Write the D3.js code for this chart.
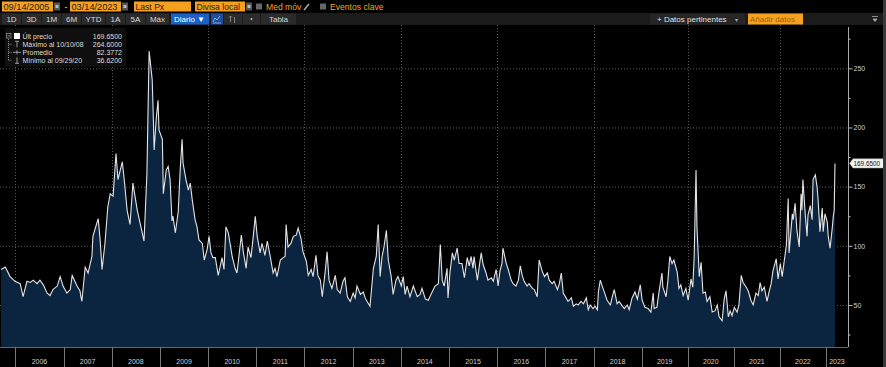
<!DOCTYPE html>
<html>
<head>
  <meta charset="utf-8" />
  <script src="https://d3js.org/d3.v7.min.js"></script>
  <style>
    body { margin: 0; padding: 0; background-color: #000; }
    svg { display: block; font-family: "Liberation Sans", Arial, sans-serif; }
  </style>
</head>
<body>
  <svg id="chart" width="886" height="367"></svg>
  <script>
    // sample dates as decimal years
    const sampleYears = [
      2005.703, 2005.79, 2005.89, 2005.99, 2006.10, 2006.16, 2006.24, 2006.31, 2006.37, 2006.45,
      2006.51, 2006.58, 2006.66, 2006.72, 2006.78, 2006.87, 2006.93, 2006.99, 2007.07, 2007.14,
      2007.18, 2007.28, 2007.34, 2007.38, 2007.45, 2007.51, 2007.59, 2007.61, 2007.72, 2007.76,
      2007.80, 2007.86, 2007.92, 2007.97, 2008.03, 2008.09, 2008.13, 2008.22, 2008.26, 2008.32,
      2008.38, 2008.44, 2008.53, 2008.59, 2008.67, 2008.73, 2008.75, 2008.776, 2008.84, 2008.86,
      2008.88, 2008.92, 2008.96, 2008.98, 2009.05, 2009.07, 2009.13, 2009.17, 2009.21, 2009.25,
      2009.27, 2009.32, 2009.38, 2009.42, 2009.46, 2009.48, 2009.54, 2009.59, 2009.63, 2009.67,
      2009.73, 2009.77, 2009.81, 2009.88, 2009.92, 2009.98, 2010.02, 2010.06, 2010.10, 2010.15,
      2010.21, 2010.29, 2010.33, 2010.37, 2010.42, 2010.50, 2010.56, 2010.60, 2010.69, 2010.73,
      2010.79, 2010.83, 2010.89, 2010.93, 2010.98, 2011.02, 2011.08, 2011.12, 2011.18, 2011.23,
      2011.29, 2011.35, 2011.39, 2011.43, 2011.50, 2011.56, 2011.60, 2011.62, 2011.66, 2011.72,
      2011.77, 2011.83, 2011.87, 2011.93, 2011.97, 2012.04, 2012.08, 2012.14, 2012.18, 2012.24,
      2012.28, 2012.33, 2012.37, 2012.43, 2012.47, 2012.51, 2012.57, 2012.64, 2012.68, 2012.74,
      2012.80, 2012.84, 2012.89, 2012.95, 2013.01, 2013.05, 2013.09, 2013.16, 2013.22, 2013.26,
      2013.30, 2013.36, 2013.43, 2013.49, 2013.53, 2013.57, 2013.61, 2013.65, 2013.70, 2013.74,
      2013.80, 2013.84, 2013.90, 2013.94, 2014.01, 2014.05, 2014.09, 2014.13, 2014.19, 2014.26,
      2014.34, 2014.40, 2014.44, 2014.51, 2014.57, 2014.65, 2014.71, 2014.78, 2014.82, 2014.86,
      2014.90, 2014.96, 2014.98, 2015.02, 2015.07, 2015.11, 2015.17, 2015.21, 2015.27, 2015.32,
      2015.38, 2015.42, 2015.46, 2015.50, 2015.52, 2015.59, 2015.63, 2015.67, 2015.71, 2015.77,
      2015.81, 2015.88, 2015.92, 2015.98, 2016.02, 2016.06, 2016.10, 2016.12, 2016.19, 2016.23,
      2016.29, 2016.33, 2016.39, 2016.44, 2016.48, 2016.52, 2016.56, 2016.62, 2016.66, 2016.73,
      2016.77, 2016.83, 2016.87, 2016.93, 2016.98, 2017.04, 2017.08, 2017.14, 2017.18, 2017.25,
      2017.29, 2017.33, 2017.37, 2017.43, 2017.47, 2017.54, 2017.58, 2017.64, 2017.68, 2017.74,
      2017.79, 2017.85, 2017.89, 2017.93, 2017.99, 2018.03, 2018.08, 2018.10, 2018.14, 2018.18,
      2018.24, 2018.28, 2018.35, 2018.39, 2018.43, 2018.49, 2018.53, 2018.60, 2018.64, 2018.70,
      2018.74, 2018.80, 2018.86, 2018.91, 2018.97, 2019.01, 2019.07, 2019.14, 2019.20, 2019.25,
      2019.27, 2019.33, 2019.38, 2019.44, 2019.46, 2019.53, 2019.57, 2019.61, 2019.66, 2019.70,
      2019.77, 2019.81, 2019.85, 2019.90, 2019.96, 2020.01, 2020.07, 2020.11, 2020.14, 2020.18,
      2020.20, 2020.25, 2020.29, 2020.33, 2020.38, 2020.42, 2020.48, 2020.53, 2020.59, 2020.64,
      2020.68, 2020.745, 2020.79, 2020.83, 2020.88, 2020.92, 2020.96, 2021.01, 2021.07, 2021.11,
      2021.16, 2021.20, 2021.27, 2021.31, 2021.37, 2021.42, 2021.48, 2021.53, 2021.57, 2021.61,
      2021.66, 2021.72, 2021.77, 2021.81, 2021.85, 2021.92, 2021.96, 2022.01, 2022.05, 2022.09,
      2022.14, 2022.18, 2022.20, 2022.27, 2022.29, 2022.33, 2022.37, 2022.42, 2022.46, 2022.48,
      2022.50, 2022.55, 2022.59, 2022.61, 2022.66, 2022.70, 2022.72, 2022.77, 2022.81, 2022.83,
      2022.87, 2022.92, 2022.94, 2022.98, 2023.03, 2023.05, 2023.09, 2023.14, 2023.16, 2023.18,
      2023.197
    ];
    const prices = [
      80, 82, 74, 70, 68, 57, 70, 69, 71, 68,
      71, 67, 60, 58, 63, 66, 74, 66, 60, 63,
      75, 66, 62, 53, 82, 77, 91, 108, 123, 105,
      80, 102, 133, 144, 142, 178, 156, 171, 156, 130,
      118, 153, 130, 119, 104, 161, 206, 264.6, 240, 212,
      181, 206, 223, 198, 190, 144, 164, 167, 156, 121,
      125, 111, 129, 164, 190, 170, 156, 147, 153, 139,
      122, 116, 105, 102, 88, 97, 108, 94, 90, 90,
      75, 90, 80, 116, 111, 91, 81, 77, 109, 95,
      81, 99, 90, 105, 125, 108, 94, 102, 92, 104,
      91, 77, 81, 74, 88, 90, 91, 118, 99, 102,
      108, 109, 115, 106, 95, 87, 75, 80, 74, 92,
      75, 71, 57, 78, 95, 71, 64, 75, 63, 60,
      70, 73, 57, 53, 60, 56, 66, 59, 61, 56,
      53, 49, 81, 91, 118, 74, 91, 99, 113, 88,
      74, 59, 71, 74, 66, 74, 59, 66, 57, 66,
      57, 59, 64, 55, 54, 61, 66, 68, 101, 71,
      66, 81, 56, 77, 94, 88, 98, 85, 85, 73,
      90, 83, 91, 81, 91, 71, 83, 94, 84, 77,
      71, 73, 70, 80, 66, 79, 85, 98, 85, 80,
      71, 68, 66, 71, 83, 75, 70, 66, 68, 64,
      63, 57, 88, 79, 74, 77, 71, 68, 70, 63,
      68, 77, 60, 56, 53, 56, 49, 51, 50, 53,
      51, 56, 46, 50, 47, 49, 46, 61, 71, 66,
      59, 54, 50, 57, 63, 51, 53, 49, 47, 50,
      46, 56, 61, 55, 67, 54, 48, 47, 44, 60,
      47, 48, 62, 77, 65, 57, 71, 91, 85, 88,
      78, 64, 67, 58, 64, 54, 72, 65, 91, 164,
      116, 74, 86, 60, 61, 53, 57, 44, 45, 50,
      40, 36.62, 55, 62, 40, 45, 41, 48, 44, 50,
      75, 69, 65, 62, 54, 50, 60, 58, 69, 62,
      65, 53, 62, 68, 79, 89, 72, 85, 74, 86,
      100, 140, 94, 127, 122, 136, 113, 99, 144, 130,
      156, 127, 108, 126, 134, 122, 156, 160, 149, 139,
      112, 132, 112, 127, 120, 108, 98, 116, 125, 130,
      169.65
    ];
    const yearLabels = [2006, 2007, 2008, 2009, 2010, 2011, 2012, 2013, 2014,
                        2015, 2016, 2017, 2018, 2019, 2020, 2021, 2022, 2023];
    const majorTicks = [50, 100, 150, 200, 250];
    const minorTicks = [25, 75, 125, 175, 225, 275];
    const legendLabels = ["Últ precio", "Máximo al 10/10/08", "Promedio", "Mínimo al 09/29/20"];
    const legendValues = ["169.6500", "264.6000", "82.3772", "36.6200"];
    const lastPrice = 169.65;
    const rangeButtons = ["1D", "3D", "1M", "6M", "YTD", "1A", "5A", "Máx"];

    function toDate(t) {
      const y = Math.floor(t);
      const a = new Date(y, 0, 1), b = new Date(y + 1, 0, 1);
      return new Date(+a + (t - y) * (b - a));
    }
    const data = sampleYears.map((t, i) => ({ date: toDate(t), value: prices[i] }));

    const svg = d3.select("#chart");
    const plotTop = 27, plotBottom = 347, axisX = 848;

    // time axis is a bit tighter after 2019, as on the terminal
    const x = d3.scaleTime()
      .domain([new Date(2005, 8, 14), new Date(2019, 0, 1), new Date(2023, 2, 14)])
      .range([1, 641.7, 835]);
    const y = d3.scaleLinear().domain([14.5, 284.9]).range([plotBottom, plotTop]);

    svg.append("rect").attr("width", 886).attr("height", 367).attr("fill", "#000");

    // gridlines
    const grid = svg.append("g").attr("stroke", "#5a5a5a").attr("stroke-dasharray", "1,2");
    grid.selectAll(".hg").data(majorTicks).enter().append("line")
      .attr("x1", 0).attr("x2", axisX)
      .attr("y1", d => y(d) + 0.5).attr("y2", d => y(d) + 0.5);
    grid.selectAll(".vg").data(yearLabels.filter(d => d % 2 === 0)).enter().append("line")
      .attr("x1", d => Math.round(x(new Date(d, 0, 1))) + 0.5)
      .attr("x2", d => Math.round(x(new Date(d, 0, 1))) + 0.5)
      .attr("y1", 25).attr("y2", plotBottom);

    // area + line
    const area = d3.area().x(d => x(d.date)).y0(plotBottom).y1(d => y(d.value));
    const line = d3.line().x(d => x(d.date)).y(d => y(d.value));
    svg.append("path").datum(data).attr("d", area).attr("fill", "#0b2440");
    svg.append("path").datum(data).attr("d", line)
      .attr("fill", "none").attr("stroke", "#e4e4e4").attr("stroke-width", 1.1);

    svg.append("line").attr("x1", 0).attr("x2", axisX)
      .attr("y1", plotBottom + 0.5).attr("y2", plotBottom + 0.5).attr("stroke", "#666");

    // year axis
    const xg = svg.append("g");
    xg.selectAll("line").data(yearLabels).enter().append("line")
      .attr("x1", d => Math.round(x(new Date(d, 0, 1))) + 0.5)
      .attr("x2", d => Math.round(x(new Date(d, 0, 1))) + 0.5)
      .attr("y1", plotBottom).attr("y2", 367).attr("stroke", "#777");
    xg.selectAll("text").data(yearLabels).enter().append("text")
      .attr("x", d => {
        const a = x(new Date(d, 0, 1));
        const b = d === 2023 ? axisX : x(new Date(d + 1, 0, 1));
        return (a + b) / 2;
      })
      .attr("y", 364).attr("text-anchor", "middle")
      .attr("font-size", 7).attr("fill", "#cfcfcf").text(d => d);

    // right value axis
    const yAxis = svg.append("g").attr("transform", `translate(${axisX + 0.5},0)`)
      .call(d3.axisRight(y).tickValues(majorTicks).tickSize(4).tickPadding(1));
    const yMinor = svg.append("g").attr("transform", `translate(${axisX + 0.5},0)`)
      .call(d3.axisRight(y).tickValues(minorTicks).tickSize(2).tickFormat(""));
    [yAxis, yMinor].forEach(g => {
      g.select(".domain").attr("stroke", "#aaa").attr("d", `M0,${plotTop}V${plotBottom}`);
      g.selectAll(".tick line").attr("stroke", "#bbb");
      g.selectAll("text").attr("fill", "#cfcfcf").attr("font-size", 7)
        .attr("font-family", "Liberation Sans, Arial, sans-serif");
    });

    // last price tag
    const ly = y(lastPrice);
    svg.append("path")
      .attr("d", `M${axisX + 1.5},${ly} L${axisX + 5},${ly - 4.7} H884 V${ly + 4.7} H${axisX + 5} Z`)
      .attr("fill", "#f2f2f2").attr("stroke", "#999").attr("stroke-width", 0.5);
    svg.append("text").attr("x", axisX + 5.5).attr("y", ly + 2.4)
      .attr("font-size", 6.4).attr("fill", "#111").text(legendValues[0]);

    // legend
    const lg = svg.append("g");
    lg.append("rect").attr("x", 5).attr("y", 28).attr("width", 121).attr("height", 39).attr("fill", "#0f0f0f");
    const rowY = [36, 44.3, 52.3, 60.3];
    lg.append("path").attr("d", `M8.5,${rowY[0] + 3} V${rowY[3]} M8.5,${rowY[1]} H12 M8.5,${rowY[2]} H12 M8.5,${rowY[3]} H12`)
      .attr("stroke", "#888").attr("stroke-dasharray", "1,1").attr("fill", "none");
    lg.append("rect").attr("x", 6.5).attr("y", rowY[0] - 2.5).attr("width", 4.5).attr("height", 4.5)
      .attr("fill", "none").attr("stroke", "#999").attr("stroke-width", 0.7);
    lg.append("line").attr("x1", 7.5).attr("x2", 10).attr("y1", rowY[0] - 0.2).attr("y2", rowY[0] - 0.2)
      .attr("stroke", "#bbb").attr("stroke-width", 0.7);
    lg.append("rect").attr("x", 14).attr("y", rowY[0] - 3).attr("width", 6).attr("height", 6).attr("fill", "#fff");
    const glyph = lg.append("g").attr("stroke", "#bbb").attr("stroke-width", 0.8).attr("fill", "none");
    glyph.append("path").attr("d", `M15,${rowY[1] - 3} H19 M17,${rowY[1] - 3} V${rowY[1] + 3}`);
    glyph.append("path").attr("d", `M13,${rowY[2]} H21 M17,${rowY[2] - 2} V${rowY[2] + 2}`);
    glyph.append("path").attr("d", `M15,${rowY[3] + 3} H19 M17,${rowY[3] - 3} V${rowY[3] + 3}`);
    lg.selectAll(".ll").data(legendLabels).enter().append("text")
      .attr("x", 22.5).attr("y", (d, i) => rowY[i] + 2.5)
      .attr("font-size", 7).attr("fill", "#dcdcdc").text(d => d);
    lg.selectAll(".lv").data(legendValues).enter().append("text")
      .attr("x", 122).attr("y", (d, i) => rowY[i] + 2.5).attr("text-anchor", "end")
      .attr("font-size", 7).attr("fill", "#dcdcdc").text(d => d);

    // toolbar row 1
    const orange = "#f5a01e";
    const tb = svg.append("g");
    tb.append("rect").attr("x", 0).attr("y", 0).attr("width", 886).attr("height", 13).attr("fill", "#000");
    const boxes = [
      { x: 2, w: 51, t: "09/14/2005", fs: 9.2 },
      { x: 70, w: 51, t: "03/14/2023", fs: 9.2 },
      { x: 134, w: 57, t: "Last Px", fs: 8.6 },
      { x: 195, w: 50, t: "Divisa local", fs: 8.6 }
    ];
    boxes.forEach(b => {
      tb.append("rect").attr("x", b.x).attr("y", 1.5).attr("width", b.w).attr("height", 10).attr("fill", orange);
      tb.append("text").attr("x", b.x + 1.5).attr("y", 10).attr("font-size", b.fs).attr("fill", "#222").text(b.t);
    });
    [54, 122, 246].forEach(px => {
      tb.append("rect").attr("x", px).attr("y", 2.5).attr("width", 6).attr("height", 8).attr("fill", "#555");
      tb.append("rect").attr("x", px + 1.5).attr("y", 5).attr("width", 3).attr("height", 3).attr("fill", "#bbb");
    });
    tb.append("text").attr("x", 66).attr("y", 10).attr("font-size", 9).attr("fill", "#ddd").attr("text-anchor", "middle").text("-");
    tb.append("rect").attr("x", 256).attr("y", 3.5).attr("width", 6).attr("height", 6).attr("fill", "#666");
    tb.append("text").attr("x", 266).attr("y", 10).attr("font-size", 8.6).attr("fill", orange).text("Med móv");
    tb.append("path").attr("d", "M304,10 L309,4").attr("stroke", "#aaa").attr("stroke-width", 1.5);
    tb.append("rect").attr("x", 320).attr("y", 3.5).attr("width", 6).attr("height", 6).attr("fill", "#666");
    tb.append("text").attr("x", 330).attr("y", 10).attr("font-size", 8.6).attr("fill", orange).text("Eventos clave");

    // toolbar row 2
    tb.append("rect").attr("x", 0).attr("y", 13).attr("width", 886).attr("height", 12).attr("fill", "#1b1b1b");
    const btnEdges = [2, 22, 42, 62, 82, 106, 126, 146, 170];
    rangeButtons.forEach((b, i) => {
      const x0 = btnEdges[i], x1 = btnEdges[i + 1] - 1;
      tb.append("rect").attr("x", x0).attr("y", 13.5).attr("width", x1 - x0).attr("height", 11).attr("fill", "#2b2b2b");
      tb.append("text").attr("x", (x0 + x1) / 2).attr("y", 22).attr("text-anchor", "middle")
        .attr("font-size", 8).attr("fill", "#d8d8d8").text(b);
    });
    tb.append("rect").attr("x", 171).attr("y", 13.5).attr("width", 38).attr("height", 11).attr("fill", "#1a62c6");
    tb.append("text").attr("x", 174).attr("y", 22).attr("font-size", 8).attr("fill", "#fff").text("Diario ▼");
    tb.append("rect").attr("x", 211).attr("y", 13.5).attr("width", 12).attr("height", 11).attr("fill", "#1d4f9a");
    tb.append("path").attr("d", "M213,22 L215,18 L217,20 L220,16 M213,23 H221").attr("stroke", "#9cc3f0").attr("fill", "none").attr("stroke-width", 0.8);
    tb.append("rect").attr("x", 224).attr("y", 13.5).attr("width", 18).attr("height", 11).attr("fill", "#2b2b2b");
    tb.append("path").attr("d", "M230.5,16 V22 M234.5,17 V23 M229,17.5 L230.5,16 L232,17.5").attr("stroke", "#999").attr("fill", "none").attr("stroke-width", 0.8);
    tb.append("rect").attr("x", 243).attr("y", 13.5).attr("width", 17).attr("height", 11).attr("fill", "#2b2b2b");
    tb.append("circle").attr("cx", 251.5).attr("cy", 19).attr("r", 1).attr("fill", "#bbb");
    tb.append("rect").attr("x", 261).attr("y", 13.5).attr("width", 35).attr("height", 11).attr("fill", "#2b2b2b");
    tb.append("text").attr("x", 278.5).attr("y", 22).attr("text-anchor", "middle").attr("font-size", 8).attr("fill", "#d8d8d8").text("Tabla");
    tb.append("rect").attr("x", 650).attr("y", 13.5).attr("width", 95).attr("height", 11).attr("fill", "#262626");
    tb.append("text").attr("x", 657).attr("y", 22).attr("font-size", 8).attr("fill", "#e0e0e0").text("+ Datos pertinentes");
    tb.append("text").attr("x", 735).attr("y", 21.5).attr("font-size", 6).attr("fill", "#aaa").text("▾");
    tb.append("rect").attr("x", 748).attr("y", 13.5).attr("width", 55).attr("height", 11).attr("fill", orange);
    tb.append("text").attr("x", 750).attr("y", 22).attr("font-size", 8).attr("fill", "#a45f06").text("Añadir datos");
    tb.append("path").attr("d", "M872,16.5 H878 M873,19 L875,21.5 L877,19 Z").attr("stroke", "#aaa").attr("fill", "#aaa").attr("stroke-width", 0.8);

    // right edge strip
    svg.append("rect").attr("x", 883).attr("y", 0).attr("width", 3).attr("height", 367).attr("fill", "#3a3a3a");
  </script>
</body>
</html>
